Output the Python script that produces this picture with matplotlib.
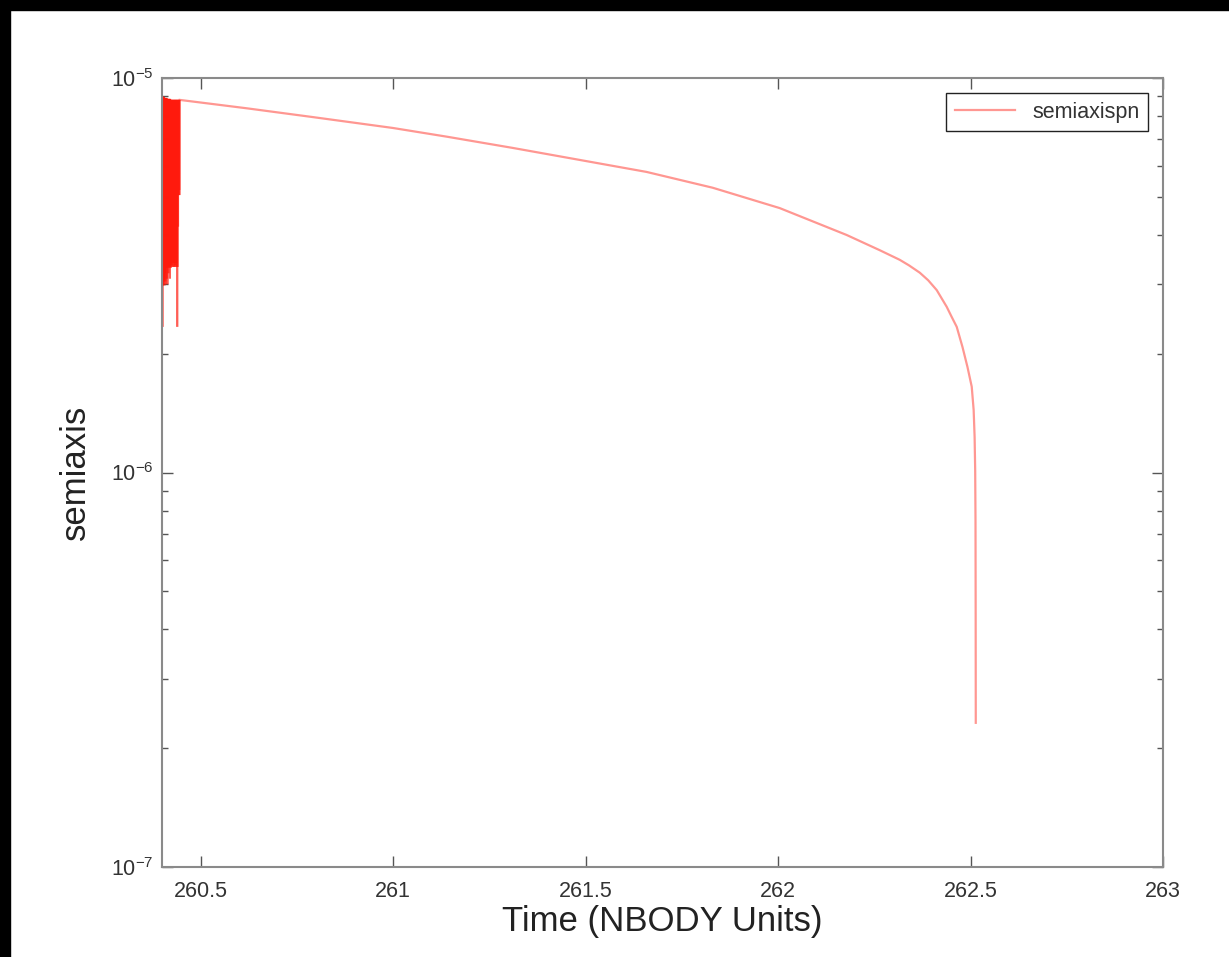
import matplotlib
matplotlib.use("Agg")
import matplotlib.pyplot as plt
from matplotlib.collections import LineCollection
from matplotlib.patches import Rectangle
from matplotlib.ticker import LogLocator, NullFormatter

plt.rcParams['font.family'] = ['Liberation Sans', 'DejaVu Sans']
plt.rcParams['mathtext.fontset'] = 'custom'
plt.rcParams['mathtext.rm'] = 'Liberation Sans'
plt.rcParams['mathtext.it'] = 'Liberation Sans'

# early eccentric phase: semiaxis jumps between high and low values every output step
osc_time = [260.4000, 260.4005, 260.4010, 260.4015, 260.4020, 260.4025, 260.4030, 260.4035, 260.4040, 260.4045,
            260.4050, 260.4055, 260.4060, 260.4065, 260.4070, 260.4075, 260.4080, 260.4085, 260.4090, 260.4095,
            260.4100, 260.4105, 260.4110, 260.4115, 260.4120, 260.4125, 260.4130, 260.4135, 260.4140, 260.4145,
            260.4150, 260.4155, 260.4160, 260.4165, 260.4170, 260.4175, 260.4180, 260.4185, 260.4190, 260.4195,
            260.4200, 260.4205, 260.4210, 260.4215, 260.4220, 260.4225, 260.4230, 260.4235, 260.4240, 260.4245,
            260.4250, 260.4255, 260.4260, 260.4265, 260.4270, 260.4275, 260.4280, 260.4285, 260.4290, 260.4295,
            260.4300, 260.4305, 260.4310, 260.4315, 260.4320, 260.4325, 260.4330, 260.4335, 260.4340, 260.4345,
            260.4350, 260.4355, 260.4360, 260.4365, 260.4370, 260.4375, 260.4380, 260.4385, 260.4390, 260.4395,
            260.4400, 260.4405, 260.4410, 260.4415, 260.4420, 260.4425, 260.4430, 260.4435, 260.4440, 260.4445]
osc_semi = [9.0e-6, 2.34e-6, 9.0e-6, 2.98e-6, 8.95e-6, 3.05e-6, 8.95e-6, 3.0e-6, 8.95e-6, 3.1e-6,
            8.9e-6, 2.98e-6, 8.9e-6, 3.2e-6, 8.9e-6, 3.05e-6, 8.9e-6, 3.3e-6, 8.9e-6, 3.0e-6,
            8.9e-6, 3.3e-6, 8.9e-6, 3.1e-6, 8.85e-6, 3.32e-6, 8.85e-6, 3.0e-6, 8.85e-6, 3.35e-6,
            8.85e-6, 3.2e-6, 8.85e-6, 3.3e-6, 8.85e-6, 3.4e-6, 8.85e-6, 3.32e-6, 8.85e-6, 3.1e-6,
            8.85e-6, 3.35e-6, 8.8e-6, 3.3e-6, 8.8e-6, 3.4e-6, 8.8e-6, 3.32e-6, 8.8e-6, 3.5e-6,
            8.8e-6, 3.35e-6, 8.8e-6, 3.32e-6, 8.8e-6, 3.6e-6, 8.8e-6, 3.4e-6, 8.8e-6, 3.32e-6,
            8.8e-6, 3.4e-6, 8.8e-6, 3.32e-6, 8.8e-6, 3.5e-6, 8.8e-6, 3.35e-6, 8.8e-6, 3.32e-6,
            8.8e-6, 3.6e-6, 8.8e-6, 3.4e-6, 8.8e-6, 3.32e-6, 8.8e-6, 2.34e-6, 8.8e-6, 3.32e-6,
            8.8e-6, 4.2e-6, 8.8e-6, 5.05e-6, 8.8e-6, 5.05e-6, 8.8e-6, 5.2e-6, 8.8e-6, 5.05e-6]

# circularised inspiral down to merger
insp_time = [260.445, 260.619, 260.791, 260.999, 261.139, 261.31, 261.484, 261.658,
             261.83, 262.004, 262.178, 262.264, 262.316, 262.34, 262.368, 262.39,
             262.412, 262.438, 262.45, 262.464, 262.479, 262.492, 262.503, 262.508,
             262.5105, 262.512, 262.5128, 262.5132, 262.5135]
insp_semi = [8.8e-6, 8.38e-6, 7.96e-6, 7.47e-6, 7.1e-6, 6.65e-6, 6.2e-6, 5.78e-6,
             5.27e-6, 4.68e-6, 4.0e-6, 3.66e-6, 3.46e-6, 3.35e-6, 3.21e-6, 3.07e-6,
             2.9e-6, 2.63e-6, 2.49e-6, 2.34e-6, 2.08e-6, 1.85e-6, 1.65e-6, 1.44e-6,
             1.23e-6, 1.01e-6, 7.58e-7, 4.5e-7, 2.32e-7]

x_ticks = [260.5, 261, 261.5, 262, 262.5, 263]
x_tick_labels = ['260.5', '261', '261.5', '262', '262.5', '263']

line_rgba = (1.0, 0.1, 0.05, 0.45)

fig = plt.figure(figsize=(12.29, 9.57), dpi=100)
fig.patch.set_facecolor('white')
# dark strips along the top and left edges
fig.patches.append(Rectangle((0, 0), 10 / 1229, 1, transform=fig.transFigure,
                             color='black', zorder=-1))
fig.patches.append(Rectangle((0, 1 - 10 / 957), 1, 10 / 957, transform=fig.transFigure,
                             color='black', zorder=-1))

ax = fig.add_axes([162 / 1229, 1 - 867 / 957, (1163 - 162) / 1229, (867 - 78) / 957])

# oscillating part as separate segments so overlapping strokes build up colour
pts = list(zip(osc_time + insp_time[:1], osc_semi + insp_semi[:1]))
segs = [[pts[i], pts[i + 1]] for i in range(len(pts) - 1)]
ax.add_collection(LineCollection(segs, colors=[line_rgba], linewidths=1.6))
ax.plot(insp_time, insp_semi, color=line_rgba, lw=1.6, label='semiaxispn')

ax.set_yscale('log')
ax.set_xlim(260.399, 263)
ax.set_ylim(1e-7, 1e-5)
ax.set_xticks(x_ticks)
ax.set_xticklabels(x_tick_labels)
ax.yaxis.set_minor_locator(LogLocator(base=10, subs=range(2, 10)))
ax.yaxis.set_minor_formatter(NullFormatter())

spine_col = '#8a8a8a'
for s in ax.spines.values():
    s.set_color(spine_col)
    s.set_linewidth(1.5)
ax.tick_params(which='both', direction='in', top=True, right=True,
               color='#555555', labelcolor='#333333', labelsize=15.5)
ax.tick_params(which='major', length=8, width=1.0, pad=10)
ax.tick_params(which='minor', length=4, width=1.0)
ax.tick_params(axis='y', pad=6)

ax.set_xlabel('Time (NBODY Units)', fontsize=25, color='#222222', labelpad=2)
ax.set_ylabel('semiaxis', fontsize=25, color='#222222', labelpad=14)

leg = ax.legend(loc='upper right', fontsize=15.5, fancybox=False, framealpha=1,
                edgecolor='#222222', handlelength=2.8, borderaxespad=0.7,
                borderpad=0.4)
leg.get_frame().set_linewidth(1.0)
for t in leg.get_texts():
    t.set_color('#333333')

fig.savefig('out.png', dpi=100, facecolor=fig.get_facecolor())
